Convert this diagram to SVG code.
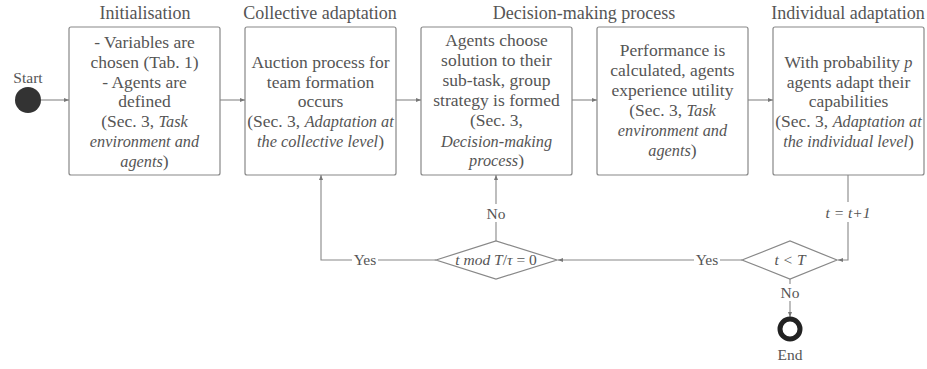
<svg xmlns="http://www.w3.org/2000/svg" width="927" height="369" viewBox="0 0 927 369">
<defs>
<marker id="arr" viewBox="0 0 10 10" refX="10" refY="5" markerWidth="5" markerHeight="5" orient="auto" markerUnits="userSpaceOnUse">
<path d="M0,1 L10,5 L0,9 z" fill="#777"/>
</marker>
<style>
text{font-family:"Liberation Serif","Times New Roman",serif;fill:#555;text-anchor:middle}
.t{font-size:17.5px}
.h{font-size:18px}
.s{font-size:15.5px}
.box{fill:#fff;stroke:#888;stroke-width:1.2}
.ln{fill:none;stroke:#888;stroke-width:1.1}
.bg{fill:#fff}
.i{font-style:italic}
.t .i,.t.i{font-size:16.3px}
</style>
</defs>
<rect width="927" height="369" fill="#fff"/>

<g id="titles">
<text class="h" x="145" y="19">Initialisation</text>
<text class="h" x="320" y="19">Collective adaptation</text>
<text class="h" x="584" y="19">Decision-making process</text>
<text class="h" x="848" y="19">Individual adaptation</text>
</g>

<g id="start">
<text class="s" x="28" y="83">Start</text>
<circle cx="28" cy="100" r="13" fill="#333"/>
</g>

<g id="box1">
<rect class="box" x="69" y="27" width="151" height="148" rx="2"/>
<text class="t" x="144.5" y="48">- Variables are</text>
<text class="t" x="144.5" y="68">chosen (Tab. 1)</text>
<text class="t" x="144.5" y="88">- Agents are</text>
<text class="t" x="144.5" y="107">defined</text>
<text class="t" x="144.5" y="127">(Sec. 3, <tspan class="i">Task</tspan></text>
<text class="t i" x="144.5" y="147">environment and</text>
<text class="t" x="144.5" y="167"><tspan class="i">agents</tspan>)</text>
</g>

<g id="box2">
<rect class="box" x="245" y="27" width="151" height="148" rx="2"/>
<text class="t" x="320.5" y="68">Auction process for</text>
<text class="t" x="320.5" y="88">team formation</text>
<text class="t" x="320.5" y="107">occurs</text>
<text class="t" x="320.5" y="127">(Sec. 3, <tspan class="i">Adaptation at</tspan></text>
<text class="t" x="320.5" y="147"><tspan class="i">the collective level</tspan>)</text>
</g>

<g id="box3">
<rect class="box" x="421" y="27" width="151" height="148" rx="2"/>
<text class="t" x="496.5" y="46">Agents choose</text>
<text class="t" x="496.5" y="66">solution to their</text>
<text class="t" x="496.5" y="86">sub-task, group</text>
<text class="t" x="496.5" y="106">strategy is formed</text>
<text class="t" x="496.5" y="126">(Sec. 3,</text>
<text class="t i" x="496.5" y="147">Decision-making</text>
<text class="t" x="496.5" y="166"><tspan class="i">process</tspan>)</text>
</g>

<g id="box4">
<rect class="box" x="597" y="27" width="151" height="148" rx="2"/>
<text class="t" x="672.5" y="56">Performance is</text>
<text class="t" x="672.5" y="76">calculated, agents</text>
<text class="t" x="672.5" y="96">experience utility</text>
<text class="t" x="672.5" y="116">(Sec. 3, <tspan class="i">Task</tspan></text>
<text class="t i" x="672.5" y="136">environment and</text>
<text class="t" x="672.5" y="156"><tspan class="i">agents</tspan>)</text>
</g>

<g id="box5">
<rect class="box" x="773" y="27" width="151" height="148" rx="2"/>
<text class="t" x="848.5" y="68">With probability <tspan class="i">p</tspan></text>
<text class="t" x="848.5" y="88">agents adapt their</text>
<text class="t" x="848.5" y="107">capabilities</text>
<text class="t" x="848.5" y="127">(Sec. 3, <tspan class="i">Adaptation at</tspan></text>
<text class="t" x="848.5" y="147"><tspan class="i">the individual level</tspan>)</text>
</g>

<g id="connectors">
<line class="ln" x1="41" y1="100" x2="69" y2="100" marker-end="url(#arr)"/>
<line class="ln" x1="220" y1="100" x2="245" y2="100" marker-end="url(#arr)"/>
<line class="ln" x1="396" y1="100" x2="421" y2="100" marker-end="url(#arr)"/>
<line class="ln" x1="572" y1="100" x2="597" y2="100" marker-end="url(#arr)"/>
<line class="ln" x1="748" y1="100" x2="773" y2="100" marker-end="url(#arr)"/>
<path class="ln" d="M848,175 V260 H838" marker-end="url(#arr)"/>
<path class="ln" d="M742,260 H558" marker-end="url(#arr)"/>
<path class="ln" d="M496,241 V175" marker-end="url(#arr)"/>
<path class="ln" d="M436,260 H321 V175" marker-end="url(#arr)"/>
<path class="ln" d="M790,279 V317" marker-end="url(#arr)"/>
<rect class="bg" x="824" y="202" width="48" height="20"/>
<text class="s i" x="848" y="218">t = t+1</text>
<rect class="bg" x="694" y="251" width="26" height="18"/>
<text class="s" x="707" y="265">Yes</text>
<rect class="bg" x="484" y="204" width="25" height="18"/>
<text class="s" x="496" y="219">No</text>
<rect class="bg" x="352" y="251" width="26" height="18"/>
<text class="s" x="365" y="265">Yes</text>
<rect class="bg" x="778" y="284" width="25" height="17"/>
<text class="s" x="790" y="298">No</text>
</g>

<g id="decision1">
<polygon points="436,260 496,241 557,260 496,279" fill="#fff" stroke="#888" stroke-width="1.2"/>
<text class="s" x="496" y="265"><tspan class="i">t mod T</tspan>/<tspan class="i">τ</tspan> = 0</text>
</g>

<g id="decision2">
<polygon points="742,260 790,241 837,260 790,279" fill="#fff" stroke="#888" stroke-width="1.2"/>
<text class="s i" x="790" y="265">t &lt; T</text>
</g>

<g id="end">
<circle cx="790" cy="329" r="10" fill="#fff" stroke="#222" stroke-width="5"/>
<text class="s" x="790" y="360">End</text>
</g>
</svg>
